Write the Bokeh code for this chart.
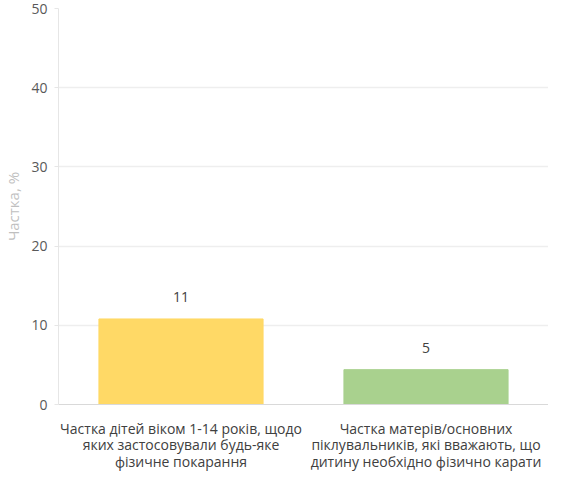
from bokeh.plotting import figure
from bokeh.models import ColumnDataSource, LabelSet, FixedTicker
from bokeh.core.properties import value
from bokeh.embed import file_html
from bokeh.resources import INLINE

categories = [
    "Частка дітей віком 1-14 років, щодо\nяких застосовували будь-яке\nфізичне покарання",
    "Частка матерів/основних\nпіклувальників, які вважають, що\nдитину необхідно фізично карати",
]
values = [10.8, 4.4]
value_labels = ["11", "5"]
colors = ["#FFD966", "#A9D18E"]
y_ticks = [0, 10, 20, 30, 40, 50]

FONT = "Open Sans"

source = ColumnDataSource(dict(cat=categories, val=values, lab=value_labels, col=colors))

p = figure(x_range=categories, y_range=(0, 50), width=548, height=473,
           output_backend="svg", toolbar_location=None,
           min_border_left=58, min_border_right=0, min_border_top=8, min_border_bottom=10)
p.outline_line_color = None
p.background_fill_color = "white"
p.border_fill_color = "white"

p.vbar(x="cat", top="val", width=0.67, color="col", source=source)

labels = LabelSet(x="cat", y="val", text="lab", source=source, y_offset=17,
                  text_align="center", text_baseline="bottom",
                  text_font=value(FONT), text_font_size="14px", text_color="#404040")
p.add_layout(labels)

# y axis
p.yaxis.ticker = FixedTicker(ticks=y_ticks)
p.yaxis.axis_label = "Частка, %"
p.yaxis.axis_label_text_font = FONT
p.yaxis.axis_label_text_font_style = "normal"
p.yaxis.axis_label_text_font_size = "15px"
p.yaxis.axis_label_text_color = "#bfbfbf"
p.yaxis.axis_label_standoff = 5
p.yaxis.major_label_text_font = FONT
p.yaxis.major_label_text_font_size = "14px"
p.yaxis.major_label_text_color = "#595959"
p.yaxis.major_label_standoff = 7
p.yaxis.axis_line_color = "#e6e6e6"
p.yaxis.major_tick_line_color = "#e6e6e6"
p.yaxis.major_tick_out = 4
p.yaxis.major_tick_in = 0
p.yaxis.minor_tick_line_color = None

# x axis
p.xaxis.major_label_text_font = FONT
p.xaxis.major_label_text_font_size = "14px"
p.xaxis.major_label_text_color = "#404040"
p.xaxis.major_label_text_line_height = 0.87
p.xaxis.major_label_standoff = 8
p.xaxis.axis_line_color = "#d9d9d9"
p.xaxis.major_tick_line_color = None
p.xaxis.minor_tick_line_color = None

p.xgrid.grid_line_color = None
p.ygrid.grid_line_color = "#eeeeee"
p.ygrid.grid_line_width = 1.5

open("out.html", "w").write(file_html(p, INLINE))
